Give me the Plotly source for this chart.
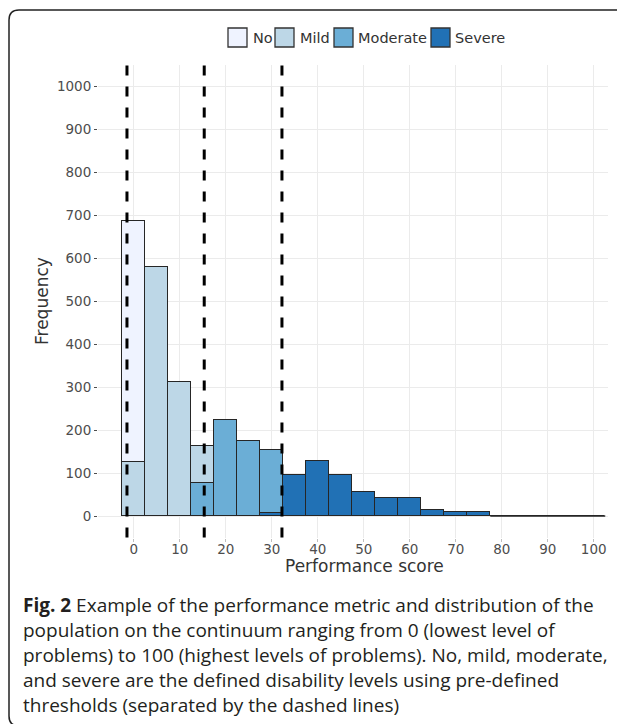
import plotly.graph_objects as go

# ---- data ----
bin_centers = [0, 5, 10, 15, 20, 25, 30, 35, 40, 45, 50, 55, 60, 65, 70, 75, 80, 85, 90, 95, 100]
no_counts       = [562, 0, 0, 0, 0, 0, 0, 0, 0, 0, 0, 0, 0, 0, 0, 0, 0, 0, 0, 0, 0]
mild_counts     = [126, 579, 313, 86, 0, 0, 0, 0, 0, 0, 0, 0, 0, 0, 0, 0, 0, 0, 0, 0, 0]
moderate_counts = [0, 0, 0, 78, 223, 174, 147, 0, 0, 0, 0, 0, 0, 0, 0, 0, 0, 0, 0, 0, 0]
severe_counts   = [0, 0, 0, 0, 0, 0, 6, 95, 129, 95, 56, 42, 42, 15, 10, 10, 0, 0, 0, 0, 0]
thresholds = [-1.5, 15.3, 32.2]
levels = ["No", "Mild", "Moderate", "Severe"]
colors = ["#EFF3FF", "#BDD7E7", "#6BAED6", "#2171B5"]
x_ticks = [0, 10, 20, 30, 40, 50, 60, 70, 80, 90, 100]
y_ticks = [0, 100, 200, 300, 400, 500, 600, 700, 800, 900, 1000]
bin_width = 5
caption_lines = [
    "<b>Fig. 2</b> Example of the performance metric and distribution of the",
    "population on the continuum ranging from 0 (lowest level of",
    "problems) to 100 (highest levels of problems). No, mild, moderate,",
    "and severe are the defined disability levels using pre-defined",
    "thresholds (separated by the dashed lines)",
]

W, H = 625, 724
OFF = 8  # page body margin compensation
def px(x):
    return (x - OFF) / W
def py(y):
    return 1 - (y - OFF) / H

fig = go.Figure()
series = {"No": no_counts, "Mild": mild_counts, "Moderate": moderate_counts, "Severe": severe_counts}
# stack bottom to top: Severe, Moderate, Mild, No
for name in ["Severe", "Moderate", "Mild", "No"]:
    col = colors[levels.index(name)]
    fig.add_trace(go.Bar(
        x=bin_centers, y=series[name], name=name, width=bin_width,
        marker=dict(color=col, line=dict(color="#262626", width=1.3)),
        showlegend=False,
    ))

# flat outline for empty bins
totals = [a + b + c + d for a, b, c, d in zip(no_counts, mild_counts, moderate_counts, severe_counts)]
empty = [c for c, t in zip(bin_centers, totals) if t == 0]
if empty:
    fig.add_trace(go.Scatter(x=[min(empty) - bin_width / 2, max(empty) + bin_width / 2], y=[0, 0],
                             mode="lines", line=dict(color="#262626", width=1.3),
                             showlegend=False, hoverinfo="skip"))

shapes = []
for t in thresholds:
    shapes.append(dict(type="line", xref="x", yref="y domain", x0=t, x1=t, y0=0, y1=1,
                       line=dict(color="black", width=3, dash="10px,11px")))

# legend (manual)
leg_sq = [228, 275, 334, 431]
leg_tx = [251, 298, 356, 453]
annotations = []
for i, name in enumerate(levels):
    shapes.append(dict(type="rect", xref="paper", yref="paper",
                       x0=px(leg_sq[i]), x1=px(leg_sq[i] + 19), y0=py(28), y1=py(47),
                       fillcolor=colors[i], line=dict(color="#333333", width=1.3)))
    annotations.append(dict(xref="paper", yref="paper", x=px(leg_tx[i]), y=py(38),
                            xanchor="left", yanchor="middle", showarrow=False, text=name,
                            font=dict(family="DejaVu Sans", size=14.5, color="#333333")))

# border
shapes.append(dict(type="path", xref="paper", yref="paper",
                   path=f"M {px(19)},{py(726)} Q {px(9)},{py(726)} {px(9)},{py(716)} L {px(9)},{py(20)} "
                        f"Q {px(9)},{py(10)} {px(19)},{py(10)} L {px(640)},{py(10)}",
                   line=dict(color="#222222", width=1.5)))

# axis titles
annotations.append(dict(xref="paper", yref="paper", x=px(364), y=py(566), xanchor="center", yanchor="middle",
                        showarrow=False, text="Performance score",
                        font=dict(family="DejaVu Sans", size=17, color="#333333")))
annotations.append(dict(xref="paper", yref="paper", x=px(42), y=py(301), xanchor="center", yanchor="middle",
                        showarrow=False, text="Frequency", textangle=-90,
                        font=dict(family="DejaVu Sans", size=17, color="#333333")))

# caption
cap_y = [605, 630, 655, 680, 705]
for line, yy in zip(caption_lines, cap_y):
    annotations.append(dict(xref="paper", yref="paper", x=px(21), y=py(yy), xanchor="left", yanchor="middle",
                            showarrow=False, text=line, align="left",
                            font=dict(family="Open Sans", size=19, color="#231f20")))

fig.update_layout(
    width=W, height=H, margin=dict(l=0, r=0, t=0, b=0),
    paper_bgcolor="white", plot_bgcolor="white",
    barmode="stack", bargap=0,
    shapes=shapes, annotations=annotations,
    xaxis=dict(domain=[px(98), px(608)], range=[-7.8, 103.1], tickvals=x_ticks,
               showgrid=True, gridcolor="#EBEBEB", gridwidth=1, zeroline=False,
               ticks="outside", ticklen=3, tickcolor="#BFBFBF", ticklabelstandoff=-4,
               tickfont=dict(family="DejaVu Sans", size=13.5, color="#4D4D4D"), showline=False),
    yaxis=dict(domain=[py(537.5), py(65)], range=[-50, 1050], tickvals=y_ticks,
               showgrid=True, gridcolor="#EBEBEB", gridwidth=1, zeroline=False,
               ticks="outside", ticklen=3, tickcolor="#4D4D4D",
               tickfont=dict(family="DejaVu Sans", size=13.5, color="#4D4D4D"), showline=False),
)

fig.write_html("out.html")
